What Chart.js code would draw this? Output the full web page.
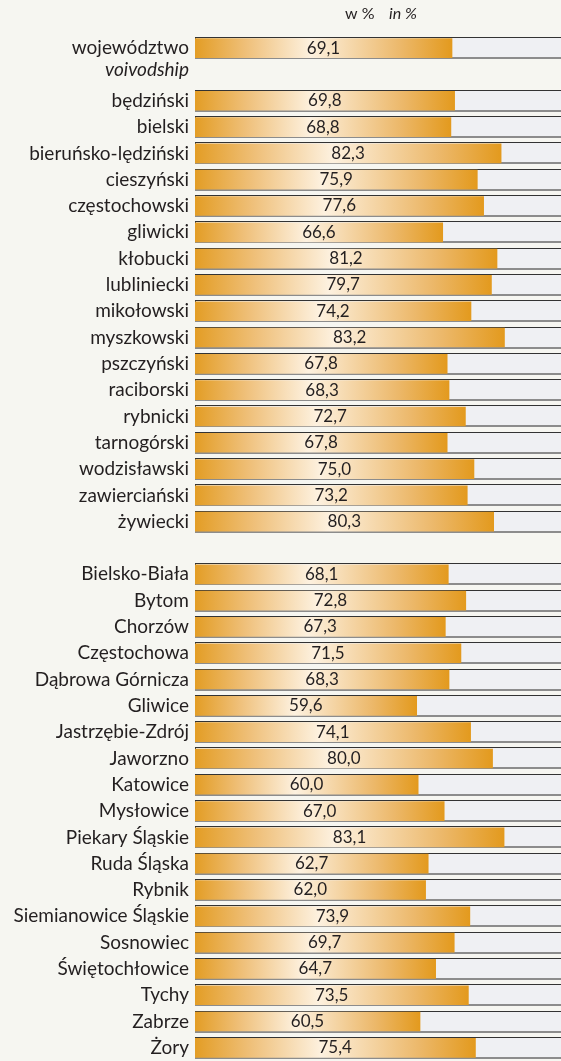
<!DOCTYPE html>
<html>
<head>
<meta charset="utf-8">
<script src="https://cdn.jsdelivr.net/npm/chart.js@4"></script>
<style>
  html, body { margin: 0; padding: 0; background: #f6f6f1; overflow: hidden; }
  #wrap { position: relative; width: 561px; height: 1061px; }
</style>
</head>
<body>
<div id="wrap"><canvas id="myChart" width="561" height="1061"></canvas></div>
<script>
// dane
const wojewodztwoLabel = "województwo";
const wojewodztwoLabelEn = "voivodship";
const wojewodztwoValue = 69.1;

const powiaty = [
  "będziński", "bielski", "bieruńsko-lędziński", "cieszyński", "częstochowski",
  "gliwicki", "kłobucki", "lubliniecki", "mikołowski", "myszkowski",
  "pszczyński", "raciborski", "rybnicki", "tarnogórski", "wodzisławski",
  "zawierciański", "żywiecki",
];
const powiatyValues = [
  69.8, 68.8, 82.3, 75.9, 77.6, 66.6, 81.2, 79.7, 74.2, 83.2, 67.8, 68.3, 72.7,
  67.8, 75.0, 73.2, 80.3,
];

const miasta = [
  "Bielsko-Biała", "Bytom", "Chorzów", "Częstochowa", "Dąbrowa Górnicza",
  "Gliwice", "Jastrzębie-Zdrój", "Jaworzno", "Katowice", "Mysłowice",
  "Piekary Śląskie", "Ruda Śląska", "Rybnik", "Siemianowice Śląskie",
  "Sosnowiec", "Świętochłowice", "Tychy", "Zabrze", "Żory",
];
const miastaValues = [
  68.1, 72.8, 67.3, 71.5, 68.3, 59.6, 74.1, 80.0, 60.0, 67.0, 83.1, 62.7, 62.0,
  73.9, 69.7, 64.7, 73.5, 60.5, 75.4,
];

const X_MAX = 98.4;

// etykiety z pustymi wierszami jako odstepy
const labels = [wojewodztwoLabel, ""].concat(powiaty, [""], miasta);
const values = [wojewodztwoValue, null].concat(powiatyValues, [null], miastaValues);

const FONT = "Lato, 'Open Sans', sans-serif";

function fmt(v) {
  return v.toFixed(1).replace(".", ",");
}

// gradient dla kazdego slupka
function barGradient(context) {
  const chart = context.chart;
  const v = context.raw;
  const xs = chart.scales.x;
  if (!xs || v == null) return "#e39b22";
  const x0 = xs.getPixelForValue(0);
  const x1 = xs.getPixelForValue(v);
  if (!isFinite(x0) || !isFinite(x1) || x1 <= x0) return "#e39b22";
  const g = chart.ctx.createLinearGradient(x0, 0, x1, 0);
  g.addColorStop(0, "#e39d25");
  g.addColorStop(0.2, "#efc07a");
  g.addColorStop(0.45, "#fdf1df");
  g.addColorStop(0.8, "#ecb86a");
  g.addColorStop(1, "#e39a1e");
  return g;
}

// tlo (szara belka) pod slupkami + wartosci
const trackPlugin = {
  id: "track",
  beforeDatasetsDraw(chart) {
    const { ctx, chartArea, scales } = chart;
    ctx.save();
    labels.forEach((lab, i) => {
      if (!lab) return;
      const y = scales.y.getPixelForValue(i);
      const top = Math.round(y - 11);
      const left = chartArea.left;
      const w = chart.width - left;
      ctx.fillStyle = "#eff0f3";
      ctx.fillRect(left, top, w, 22);
      ctx.fillStyle = "#333333";
      ctx.fillRect(left, top, w, 1);
      ctx.fillRect(left, top, 1, 22);
      ctx.fillStyle = "#8c8c8c";
      ctx.fillRect(left, top + 20, w, 2);
    });
    ctx.restore();
  },
  afterDatasetsDraw(chart) {
    const { ctx, scales } = chart;
    ctx.save();
    ctx.fillStyle = "#231f20";
    ctx.textAlign = "center";
    ctx.textBaseline = "middle";
    ctx.font = "17px " + FONT;
    values.forEach((v, i) => {
      if (v == null) return;
      const x0 = scales.x.getPixelForValue(0);
      const x1 = scales.x.getPixelForValue(v);
      const y = scales.y.getPixelForValue(i);
      ctx.fillText(fmt(v), (x0 + x1) / 2, y);
    });
    // druga linia etykiety wojewodztwa
    ctx.textAlign = "right";
    ctx.font = "italic 19px " + FONT;
    ctx.fillText(wojewodztwoLabelEn, 189, scales.y.getPixelForValue(0) + 22);
    // naglowek
    ctx.textAlign = "left";
    ctx.font = "16px " + FONT;
    ctx.fillText("w %", 345, 14);
    ctx.font = "italic 16px " + FONT;
    ctx.fillText("in %", 389, 14);
    ctx.restore();
  },
};

const ctx = document.getElementById("myChart").getContext("2d");

const myChart = new Chart(ctx, {
  type: "bar",
  data: {
    labels: labels,
    datasets: [
      {
        data: values,
        backgroundColor: barGradient,
        borderWidth: 0,
        barThickness: 19,
        borderSkipped: false,
      },
    ],
  },
  options: {
    indexAxis: "y",
    responsive: false,
    animation: false,
    layout: {
      padding: { top: 35, bottom: 0, left: 0, right: 0 },
    },
    scales: {
      x: {
        display: false,
        min: 0,
        max: X_MAX,
      },
      y: {
        afterFit: (scale) => {
          scale.width = 195;
          scale.paddingTop = 0;
          scale.paddingBottom = 0;
        },
        grid: { display: false, drawTicks: false },
        border: { display: false },
        ticks: {
          autoSkip: false,
          padding: 6,
          color: "#231f20",
          font: { family: FONT, size: 19 },
        },
      },
    },
    plugins: {
      legend: { display: false },
      tooltip: { enabled: false },
    },
  },
  plugins: [trackPlugin],
});
</script>
</body>
</html>
